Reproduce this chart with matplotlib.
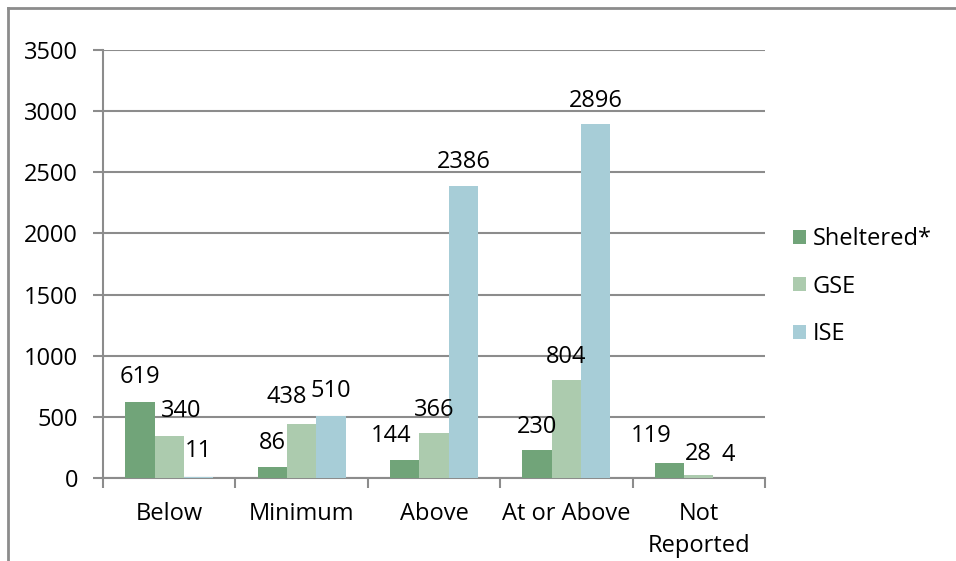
import numpy as np
import matplotlib.pyplot as plt
from matplotlib.lines import Line2D

# ── Data ────────────────────────────────────────────────
categories = ["Below", "Minimum", "Above", "At or Above", "Not\nReported"]
series_names = ["Sheltered*", "GSE", "ISE"]
sheltered = [619, 86, 144, 230, 119]
gse       = [340, 438, 366, 804, 28]
ise       = [11, 510, 2386, 2896, 4]
y_ticks   = [0, 500, 1000, 1500, 2000, 2500, 3000, 3500]

# ── Style ───────────────────────────────────────────────
COLORS    = ["#71a479", "#accbae", "#a7cdd7"]
GRID_COL  = "#8c8c8c"
BAR_W     = 0.222
FONT      = "Open Sans"
FSIZE     = 17

# label nudges in pixels (dx, dy of the digit centre above the bar top)
label_offsets = [
    [(0, 28), (0, 27), (-13, 27), (0, 26), (-18, 30)],
    [(12, 28), (-15, 30), (0, 26), (0, 26), (0, 24)],
    [(0, 29), (0, 28), (0, 27), (0, 26), (0, 26)],
]

plt.rcParams["font.family"] = [FONT, "DejaVu Sans"]

fig = plt.figure(figsize=(9.56, 5.61), dpi=100)
ax = fig.add_axes([103 / 956, 83 / 561, 662 / 956, 428 / 561])

x = np.arange(len(categories))
values = [sheltered, gse, ise]
for k, (name, vals, col) in enumerate(zip(series_names, values, COLORS)):
    pos = x + (k - 1) * BAR_W
    ax.bar(pos, vals, width=BAR_W, color=col, label=name, zorder=3)
    for xi, v, (dx, dy) in zip(pos, vals, label_offsets[k]):
        ax.annotate(str(v), xy=(xi, v), xytext=(dx, dy - 9),
                    textcoords="offset pixels", ha="center", va="baseline",
                    fontsize=FSIZE, color="black", zorder=4)

# ── Axes ────────────────────────────────────────────────
ax.set_xlim(-0.5, len(categories) - 0.5)
ax.set_ylim(0, 3500)
ax.set_yticks(y_ticks)
ax.set_yticklabels([str(t) for t in y_ticks], fontsize=FSIZE)
ax.yaxis.grid(True, color=GRID_COL, linewidth=1.5, zorder=0)
ax.set_axisbelow(True)

ax.set_xticks(x)
ax.set_xticklabels(categories, fontsize=FSIZE, linespacing=1.45)
ax.tick_params(axis="x", length=0, pad=17)
ax.set_xticks(np.arange(len(categories) + 1) - 0.5, minor=True)
ax.tick_params(axis="x", which="minor", length=7, width=1.5, color=GRID_COL)
ax.tick_params(axis="y", length=7, width=1.5, color=GRID_COL, pad=11)

for side in ["top", "right"]:
    ax.spines[side].set_visible(False)
for side in ["left", "bottom"]:
    ax.spines[side].set_color(GRID_COL)
    ax.spines[side].set_linewidth(1.5)

# ── Legend ──────────────────────────────────────────────
leg = ax.legend(loc="center left", bbox_to_anchor=(1.01, 0.447), frameon=False,
                fontsize=FSIZE, handlelength=0.55, handleheight=0.55,
                handletextpad=0.3, labelspacing=1.0)

# outer chart border (runs off the right and bottom edges)
fig.add_artist(Line2D([7.5 / 956, 7.5 / 956], [0, 1 - 7.5 / 561],
                      transform=fig.transFigure, color=GRID_COL, linewidth=2))
fig.add_artist(Line2D([7.5 / 956, 1], [1 - 7.5 / 561, 1 - 7.5 / 561],
                      transform=fig.transFigure, color=GRID_COL, linewidth=2))

fig.savefig("out.png", dpi=100)
